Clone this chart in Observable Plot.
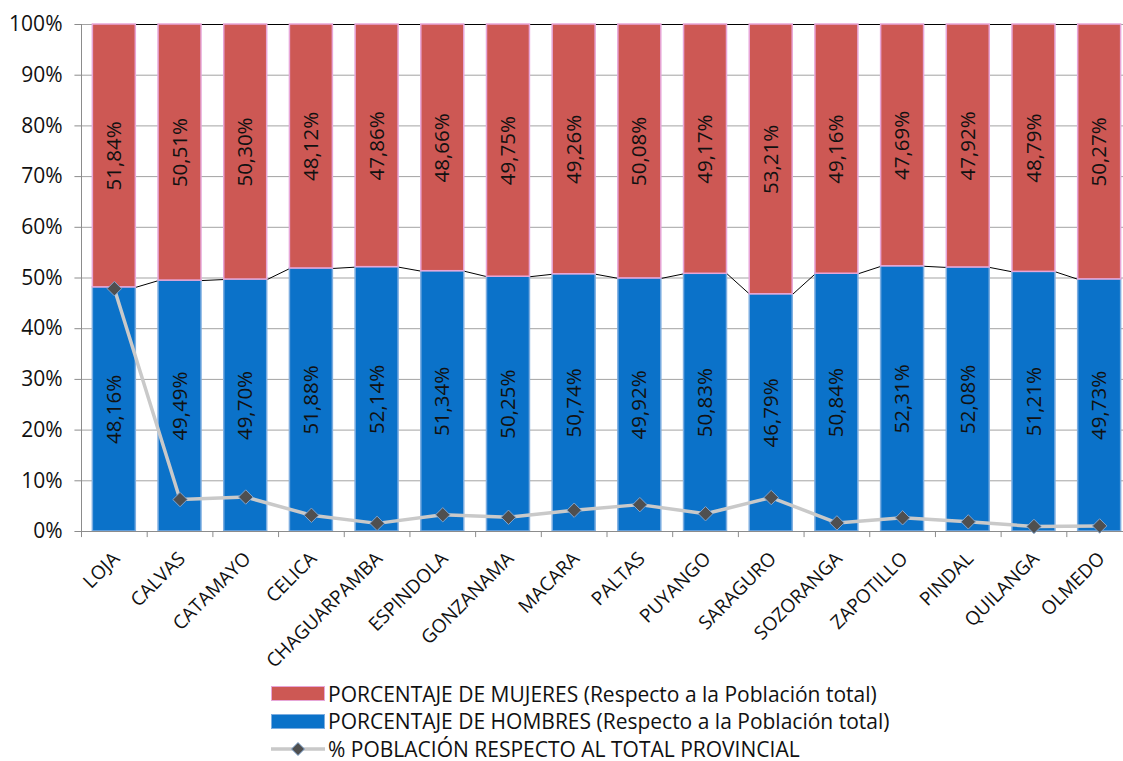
<!DOCTYPE html>
<html>
<head>
<meta charset="utf-8">
<script src="https://cdn.jsdelivr.net/npm/d3@7"></script>
<script src="https://cdn.jsdelivr.net/npm/@observablehq/plot@0.6"></script>
<style>
  html, body { margin: 0; padding: 0; background: #fff; }
  body { width: 1123px; height: 761px; overflow: hidden; font-family: "Open Sans", sans-serif; position: relative; }
  #chart svg { display: block; overflow: visible; }
  .legend { position: absolute; left: 271px; top: 680px; font-size: 21px; color: #111; line-height: 24px; }
  .legend .row { display: flex; align-items: center; height: 27.5px; }
  .legend .sw { width: 54px; height: 15px; box-sizing: border-box; margin-right: 3px; }
</style>
</head>
<body>
<div id="chart"></div>
<div class="legend" id="legend"></div>
<script>
const cantones = ["LOJA","CALVAS","CATAMAYO","CELICA","CHAGUARPAMBA","ESPINDOLA","GONZANAMA","MACARA","PALTAS","PUYANGO","SARAGURO","SOZORANGA","ZAPOTILLO","PINDAL","QUILANGA","OLMEDO"];
const hombres = [48.16,49.49,49.70,51.88,52.14,51.34,50.25,50.74,49.92,50.83,46.79,50.84,52.31,52.08,51.21,49.73];
const mujeres = [51.84,50.51,50.30,48.12,47.86,48.66,49.75,49.26,50.08,49.17,53.21,49.16,47.69,47.92,48.79,50.27];
const poblacion = [47.9,6.3,6.8,3.2,1.6,3.3,2.8,4.2,5.3,3.5,6.7,1.7,2.7,1.9,1.0,1.1];

const serieMujeres = "PORCENTAJE DE MUJERES (Respecto a la Población total)";
const serieHombres = "PORCENTAJE DE HOMBRES (Respecto a la Población total)";
const serieLinea = "% POBLACIÓN RESPECTO AL TOTAL PROVINCIAL";

const RED = "#cd5854", RED_EDGE = "#e7a6d8";
const BLUE = "#0b72c9", BLUE_EDGE = "#7cade0";
const HW = 0.327; // half bar width in category units

const rows = cantones.map((c, i) => ({
  i, c, h: hombres[i] / 100, m: mujeres[i] / 100, p: poblacion[i] / 100
}));
const pairs = rows.slice(0, -1).map((d, k) => ({a: d, b: rows[k + 1]}));
const fmt = v => v.toFixed(2).replace(".", ",") + "%";
const yTicks = d3.range(0, 11).map(k => k / 10);
const xBounds = d3.range(0, 17).map(k => k - 0.5);

const plot = Plot.plot({
  width: 1123,
  height: 670,
  style: {fontFamily: "Open Sans, sans-serif", color: "#111", background: "#fff"},
  x: {type: "linear", domain: [-0.5, 15.5], range: [81, 1132], axis: null},
  y: {type: "linear", domain: [0, 1], range: [531, 24], axis: null},
  marks: [
    Plot.ruleY(yTicks, {x1: -0.5, x2: 15.5, stroke: "#a3a3a3", strokeWidth: 1}),
    // series lines (Excel style) between bars
    Plot.link(pairs, {x1: d => d.a.i + HW, x2: d => d.b.i - HW, y1: d => d.a.h, y2: d => d.b.h, stroke: "#000", strokeWidth: 1}),
    Plot.link(pairs, {x1: d => d.a.i + HW, x2: d => d.b.i - HW, y1: () => 1, y2: () => 1, stroke: "#000", strokeWidth: 1}),
    // bars
    Plot.rectY(rows, {x1: d => d.i - HW, x2: d => d.i + HW, y1: () => 0, y2: d => d.h, fill: BLUE, stroke: BLUE_EDGE, strokeWidth: 1.5}),
    Plot.rectY(rows, {x1: d => d.i - HW, x2: d => d.i + HW, y1: d => d.h, y2: () => 1, fill: RED, stroke: RED_EDGE, strokeWidth: 1.5}),
    // axes lines
    Plot.ruleX([-0.5], {y1: 0, y2: 1, stroke: "#8c8c8c"}),
    Plot.ruleY([0], {x1: -0.5, x2: 15.5, stroke: "#8c8c8c"}),
    Plot.ruleY(yTicks, {x1: -0.6, x2: -0.5, stroke: "#8c8c8c"}),
    // y tick labels
    Plot.text(yTicks, {x: () => -0.5, y: d => d, text: d => Math.round(d * 100) + "%", textAnchor: "end", dx: -19, fontSize: 21}),
    // x ticks at category boundaries
    Plot.ruleX(xBounds, {y1: 0, y2: -0.012, stroke: "#8c8c8c"}),
    // x labels
    Plot.text(rows, {x: "i", y: () => 0, text: "c", rotate: -45, textAnchor: "end", dx: 2, dy: 24, fontSize: 19}),
    // data labels
    Plot.text(rows, {x: "i", y: d => d.h / 2, text: d => fmt(d.h * 100), rotate: -90, fontSize: 20.5}),
    Plot.text(rows, {x: "i", y: d => d.h + d.m / 2, text: d => fmt(d.m * 100), rotate: -90, fontSize: 20.5}),
    // population line
    Plot.line(rows, {x: "i", y: "p", stroke: "#c9c9c9", strokeWidth: 3.5}),
    Plot.dot(rows, {x: "i", y: "p", symbol: "diamond2", r: 6.5, fill: "#4f4f4f", stroke: "#7fa4cf", strokeWidth: 1})
  ]
});
document.getElementById("chart").append(plot);

// legend
const legend = document.getElementById("legend");
legend.innerHTML = `
  <div class="row"><div class="sw" style="background:${RED};border:1.5px solid ${RED_EDGE}"></div><span>${serieMujeres}</span></div>
  <div class="row"><div class="sw" style="background:${BLUE};border:1.5px solid ${BLUE_EDGE}"></div><span>${serieHombres}</span></div>
  <div class="row"><svg width="57" height="16"><line x1="0" y1="8" x2="54" y2="8" stroke="#c9c9c9" stroke-width="3.5"/><path d="M27,1.5L33.5,8L27,14.5L20.5,8Z" fill="#4f4f4f" stroke="#7fa4cf" stroke-width="1"/></svg><span>${serieLinea}</span></div>`;
</script>
</body>
</html>
